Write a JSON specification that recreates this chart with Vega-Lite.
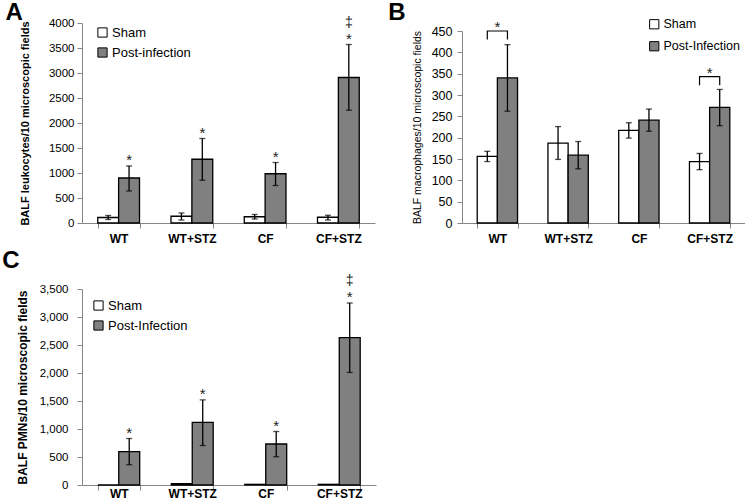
{
  "$schema": "https://vega.github.io/schema/vega-lite/v6.json",
  "padding": {"left": 2, "top": 0, "right": 0, "bottom": 0},
  "background": "white",
  "config": {
    "font": "Liberation Sans",
    "view": {"stroke": null},
    "axis": {"grid": false, "domainColor": "#868686", "tickColor": "#868686", "labelColor": "black", "titleColor": "black", "labelOverlap": false},
    "axisX": {"labelFontWeight": "bold", "labelFontSize": 12, "labelAngle": 0, "tickBand": "extent", "tickSize": 5, "labelPadding": 4, "title": null},
    "axisY": {"tickSize": 5, "labelFontSize": 11.5, "labelPadding": 3, "titleFontWeight": "bold", "titleFontSize": 11},
    "legend": {"labelFontSize": 13, "labelColor": "black", "symbolType": "square", "symbolSize": 85, "symbolStrokeColor": "black", "symbolStrokeWidth": 1, "rowPadding": 5, "labelOffset": 3, "title": null},
    "title": {"fontSize": 24, "fontWeight": "bold", "anchor": "start", "frame": "bounds", "color": "black"}
  },
  "datasets": {
    "A": [
      {"cat": "WT", "grp": "Sham", "mean": 110, "lo": 70, "hi": 150},
      {"cat": "WT", "grp": "Post-infection", "mean": 900, "lo": 640, "hi": 1140, "star": "*"},
      {"cat": "WT+STZ", "grp": "Sham", "mean": 135, "lo": 60, "hi": 200},
      {"cat": "WT+STZ", "grp": "Post-infection", "mean": 1275, "lo": 855, "hi": 1690, "star": "*"},
      {"cat": "CF", "grp": "Sham", "mean": 125, "lo": 80, "hi": 170},
      {"cat": "CF", "grp": "Post-infection", "mean": 985, "lo": 750, "hi": 1210, "star": "*"},
      {"cat": "CF+STZ", "grp": "Sham", "mean": 115, "lo": 60, "hi": 155},
      {"cat": "CF+STZ", "grp": "Post-infection", "mean": 2910, "lo": 2255, "hi": 3570, "star": "*", "dag": "‡"}
    ],
    "B": [
      {"cat": "WT", "grp": "Sham", "mean": 156, "lo": 144, "hi": 168},
      {"cat": "WT", "grp": "Post-Infection", "mean": 340, "lo": 262, "hi": 418},
      {"cat": "WT+STZ", "grp": "Sham", "mean": 187, "lo": 149, "hi": 226},
      {"cat": "WT+STZ", "grp": "Post-Infection", "mean": 159, "lo": 127, "hi": 191},
      {"cat": "CF", "grp": "Sham", "mean": 217, "lo": 199, "hi": 235},
      {"cat": "CF", "grp": "Post-Infection", "mean": 241, "lo": 215, "hi": 267},
      {"cat": "CF+STZ", "grp": "Sham", "mean": 144, "lo": 125, "hi": 163},
      {"cat": "CF+STZ", "grp": "Post-Infection", "mean": 271, "lo": 228, "hi": 313}
    ],
    "Bbr": [
      {"cat": "WT", "grp": "Sham", "y": 430, "ord": 1},
      {"cat": "WT", "grp": "Sham", "y": 450, "ord": 2},
      {"cat": "WT", "grp": "Post-Infection", "y": 450, "ord": 3},
      {"cat": "WT", "grp": "Post-Infection", "y": 430, "ord": 4},
      {"cat": "CF+STZ", "grp": "Sham", "y": 323, "ord": 1},
      {"cat": "CF+STZ", "grp": "Sham", "y": 343, "ord": 2},
      {"cat": "CF+STZ", "grp": "Post-Infection", "y": 343, "ord": 3},
      {"cat": "CF+STZ", "grp": "Post-Infection", "y": 323, "ord": 4}
    ],
    "Bstar": [
      {"cat": "WT", "y": 450, "star": "*"},
      {"cat": "CF+STZ", "y": 343, "star": "*"}
    ],
    "C": [
      {"cat": "WT", "grp": "Sham", "mean": 0},
      {"cat": "WT", "grp": "Post-Infection", "mean": 595, "lo": 362, "hi": 830, "star": "*"},
      {"cat": "WT+STZ", "grp": "Sham", "mean": 25},
      {"cat": "WT+STZ", "grp": "Post-Infection", "mean": 1118, "lo": 705, "hi": 1520, "star": "*"},
      {"cat": "CF", "grp": "Sham", "mean": 12},
      {"cat": "CF", "grp": "Post-Infection", "mean": 732, "lo": 505, "hi": 955, "star": "*"},
      {"cat": "CF+STZ", "grp": "Sham", "mean": 12},
      {"cat": "CF+STZ", "grp": "Post-Infection", "mean": 2630, "lo": 2010, "hi": 3250, "star": "*", "dag": "‡"}
    ]
  },
  "vconcat": [
    {
      "hconcat": [
        {
          "width": 293, "height": 200,
          "title": {"text": "A", "dx": -14, "offset": -9},
          "data": {"name": "A"},
          "encoding": {
            "x": {"field": "cat", "type": "nominal", "sort": ["WT", "WT+STZ", "CF", "CF+STZ"], "scale": {"paddingInner": 0.43, "paddingOuter": 0.215}, "axis": {"labelPadding": 5}},
            "xOffset": {"field": "grp", "type": "nominal", "sort": ["Sham", "Post-infection"]}
          },
          "layer": [
            {
              "mark": {"type": "bar", "stroke": "black", "strokeWidth": 1.3},
              "encoding": {
                "y": {"field": "mean", "type": "quantitative", "scale": {"domain": [0, 4000]}, "axis": {"values": [0, 500, 1000, 1500, 2000, 2500, 3000, 3500, 4000], "format": "d", "title": "BALF leukocytes/10 microscopic fields", "titlePadding": 18}},
                "fill": {"field": "grp", "type": "nominal", "scale": {"domain": ["Sham", "Post-infection"], "range": ["white", "#808080"]}, "legend": {"orient": "none", "legendX": 14, "legendY": 3}}
              }
            },
            {
              "transform": [{"filter": "datum.hi != null"}],
              "mark": {"type": "rule", "color": "black", "strokeWidth": 1.3},
              "encoding": {"y": {"field": "lo", "type": "quantitative", "axis": {"values": [0, 500, 1000, 1500, 2000, 2500, 3000, 3500, 4000], "format": "d", "title": "BALF leukocytes/10 microscopic fields", "titlePadding": 18}}, "y2": {"field": "hi"}}
            },
            {
              "transform": [{"filter": "datum.hi != null"}],
              "mark": {"type": "tick", "color": "black", "size": 6, "thickness": 1.3, "orient": "horizontal"},
              "encoding": {"y": {"field": "lo", "type": "quantitative", "axis": {"values": [0, 500, 1000, 1500, 2000, 2500, 3000, 3500, 4000], "format": "d", "title": "BALF leukocytes/10 microscopic fields", "titlePadding": 18}}}
            },
            {
              "transform": [{"filter": "datum.hi != null"}],
              "mark": {"type": "tick", "color": "black", "size": 6, "thickness": 1.3, "orient": "horizontal"},
              "encoding": {"y": {"field": "hi", "type": "quantitative", "axis": {"values": [0, 500, 1000, 1500, 2000, 2500, 3000, 3500, 4000], "format": "d", "title": "BALF leukocytes/10 microscopic fields", "titlePadding": 18}}}
            },
            {
              "transform": [{"filter": "datum.star != null"}],
              "mark": {"type": "text", "fontSize": 15, "baseline": "alphabetic", "dy": -1, "color": "#222"},
              "encoding": {"y": {"field": "hi", "type": "quantitative", "axis": {"values": [0, 500, 1000, 1500, 2000, 2500, 3000, 3500, 4000], "format": "d", "title": "BALF leukocytes/10 microscopic fields", "titlePadding": 18}}, "text": {"field": "star"}}
            },
            {
              "transform": [{"filter": "datum.dag != null"}],
              "mark": {"type": "text", "fontSize": 14, "baseline": "alphabetic", "dy": -18, "color": "#222"},
              "encoding": {"y": {"field": "hi", "type": "quantitative", "axis": {"values": [0, 500, 1000, 1500, 2000, 2500, 3000, 3500, 4000], "format": "d", "title": "BALF leukocytes/10 microscopic fields", "titlePadding": 18}}, "text": {"field": "dag"}}
            }
          ]
        },
        {
          "width": 283, "height": 200,
          "title": {"text": "B", "dx": -24, "offset": -7},
          "layer": [
            {
              "data": {"name": "B"},
              "mark": {"type": "bar", "stroke": "black", "strokeWidth": 1.3},
              "encoding": {
                "x": {"field": "cat", "type": "nominal", "sort": ["WT", "WT+STZ", "CF", "CF+STZ"], "scale": {"paddingInner": 0.43, "paddingOuter": 0.215}, "axis": {"labelPadding": 5}},
                "xOffset": {"field": "grp", "type": "nominal", "sort": ["Sham", "Post-Infection"]},
                "y": {"field": "mean", "type": "quantitative", "scale": {"domain": [0, 450], "range": [200, 8]}, "axis": {"values": [0, 50, 100, 150, 200, 250, 300, 350, 400, 450], "title": "BALF macrophages/10 microscopic fields", "titleFontWeight": "normal", "titleFontSize": 10.5, "labelFontSize": 12.5, "labelPadding": 5, "titlePadding": 9}},
                "fill": {"field": "grp", "type": "nominal", "scale": {"domain": ["Sham", "Post-Infection"], "range": ["white", "#808080"]}, "legend": {"orient": "none", "legendX": 186, "legendY": -5, "labelFontSize": 12.5, "rowPadding": 8}}
              }
            },
            {
              "data": {"name": "B"},
              "mark": {"type": "rule", "color": "black", "strokeWidth": 1.3},
              "encoding": {
                "x": {"field": "cat", "type": "nominal", "sort": ["WT", "WT+STZ", "CF", "CF+STZ"]},
                "xOffset": {"field": "grp", "type": "nominal", "sort": ["Sham", "Post-Infection"]},
                "y": {"field": "lo", "type": "quantitative", "axis": {"values": [0, 50, 100, 150, 200, 250, 300, 350, 400, 450], "title": "BALF macrophages/10 microscopic fields", "titleFontWeight": "normal", "titleFontSize": 10.5, "labelFontSize": 12.5, "labelPadding": 5, "titlePadding": 9}}, "y2": {"field": "hi"}
              }
            },
            {
              "data": {"name": "B"},
              "mark": {"type": "tick", "color": "black", "size": 6, "thickness": 1.3, "orient": "horizontal"},
              "encoding": {
                "x": {"field": "cat", "type": "nominal", "sort": ["WT", "WT+STZ", "CF", "CF+STZ"]},
                "xOffset": {"field": "grp", "type": "nominal", "sort": ["Sham", "Post-Infection"]},
                "y": {"field": "lo", "type": "quantitative", "axis": {"values": [0, 50, 100, 150, 200, 250, 300, 350, 400, 450], "title": "BALF macrophages/10 microscopic fields", "titleFontWeight": "normal", "titleFontSize": 10.5, "labelFontSize": 12.5, "labelPadding": 5, "titlePadding": 9}}
              }
            },
            {
              "data": {"name": "B"},
              "mark": {"type": "tick", "color": "black", "size": 6, "thickness": 1.3, "orient": "horizontal"},
              "encoding": {
                "x": {"field": "cat", "type": "nominal", "sort": ["WT", "WT+STZ", "CF", "CF+STZ"]},
                "xOffset": {"field": "grp", "type": "nominal", "sort": ["Sham", "Post-Infection"]},
                "y": {"field": "hi", "type": "quantitative", "axis": {"values": [0, 50, 100, 150, 200, 250, 300, 350, 400, 450], "title": "BALF macrophages/10 microscopic fields", "titleFontWeight": "normal", "titleFontSize": 10.5, "labelFontSize": 12.5, "labelPadding": 5, "titlePadding": 9}}
              }
            },
            {
              "data": {"name": "Bbr"},
              "mark": {"type": "line", "color": "black", "strokeWidth": 1.2},
              "encoding": {
                "x": {"field": "cat", "type": "nominal", "sort": ["WT", "WT+STZ", "CF", "CF+STZ"]},
                "xOffset": {"field": "grp", "type": "nominal", "sort": ["Sham", "Post-Infection"]},
                "y": {"field": "y", "type": "quantitative", "axis": {"values": [0, 50, 100, 150, 200, 250, 300, 350, 400, 450], "title": "BALF macrophages/10 microscopic fields", "titleFontWeight": "normal", "titleFontSize": 10.5, "labelFontSize": 12.5, "labelPadding": 5, "titlePadding": 9}},
                "detail": {"field": "cat"},
                "order": {"field": "ord", "type": "quantitative"}
              }
            },
            {
              "data": {"name": "Bstar"},
              "mark": {"type": "text", "fontSize": 15, "baseline": "alphabetic", "dy": 1, "color": "#222"},
              "encoding": {
                "x": {"field": "cat", "type": "nominal", "sort": ["WT", "WT+STZ", "CF", "CF+STZ"]},
                "y": {"field": "y", "type": "quantitative", "axis": {"values": [0, 50, 100, 150, 200, 250, 300, 350, 400, 450], "title": "BALF macrophages/10 microscopic fields", "titleFontWeight": "normal", "titleFontSize": 10.5, "labelFontSize": 12.5, "labelPadding": 5, "titlePadding": 9}},
                "text": {"field": "star"}
              }
            }
          ]
        }
      ],
      "spacing": 13,
      "resolve": {"scale": {"x": "independent", "y": "independent", "fill": "independent", "xOffset": "independent"}, "legend": {"fill": "independent"}}
    },
    {
      "width": 294, "height": 196,
      "title": {"text": "C", "dx": -14, "offset": 1},
      "data": {"name": "C"},
      "encoding": {
        "x": {"field": "cat", "type": "nominal", "sort": ["WT", "WT+STZ", "CF", "CF+STZ"], "scale": {"paddingInner": 0.43, "paddingOuter": 0.215}, "axis": {"labelPadding": -2}},
        "xOffset": {"field": "grp", "type": "nominal", "sort": ["Sham", "Post-Infection"]}
      },
      "layer": [
        {
          "mark": {"type": "bar", "stroke": "black", "strokeWidth": 1.3},
          "encoding": {
            "y": {"field": "mean", "type": "quantitative", "scale": {"domain": [0, 3500]}, "axis": {"values": [0, 500, 1000, 1500, 2000, 2500, 3000, 3500], "format": ",d", "title": "BALF PMNs/10 microscopic fields", "titleFontSize": 12, "labelPadding": 9, "titlePadding": 10}},
            "fill": {"field": "grp", "type": "nominal", "scale": {"domain": ["Sham", "Post-Infection"], "range": ["white", "#808080"]}, "legend": {"orient": "none", "legendX": 10, "legendY": 10}}
          }
        },
        {
          "transform": [{"filter": "datum.hi != null"}],
          "mark": {"type": "rule", "color": "black", "strokeWidth": 1.3},
          "encoding": {"y": {"field": "lo", "type": "quantitative", "axis": {"values": [0, 500, 1000, 1500, 2000, 2500, 3000, 3500], "format": ",d", "title": "BALF PMNs/10 microscopic fields", "titleFontSize": 12, "labelPadding": 9, "titlePadding": 10}}, "y2": {"field": "hi"}}
        },
        {
          "transform": [{"filter": "datum.hi != null"}],
          "mark": {"type": "tick", "color": "black", "size": 6, "thickness": 1.3, "orient": "horizontal"},
          "encoding": {"y": {"field": "lo", "type": "quantitative", "axis": {"values": [0, 500, 1000, 1500, 2000, 2500, 3000, 3500], "format": ",d", "title": "BALF PMNs/10 microscopic fields", "titleFontSize": 12, "labelPadding": 9, "titlePadding": 10}}}
        },
        {
          "transform": [{"filter": "datum.hi != null"}],
          "mark": {"type": "tick", "color": "black", "size": 6, "thickness": 1.3, "orient": "horizontal"},
          "encoding": {"y": {"field": "hi", "type": "quantitative", "axis": {"values": [0, 500, 1000, 1500, 2000, 2500, 3000, 3500], "format": ",d", "title": "BALF PMNs/10 microscopic fields", "titleFontSize": 12, "labelPadding": 9, "titlePadding": 10}}}
        },
        {
          "transform": [{"filter": "datum.star != null"}],
          "mark": {"type": "text", "fontSize": 15, "baseline": "alphabetic", "dy": -1, "color": "#222"},
          "encoding": {"y": {"field": "hi", "type": "quantitative", "axis": {"values": [0, 500, 1000, 1500, 2000, 2500, 3000, 3500], "format": ",d", "title": "BALF PMNs/10 microscopic fields", "titleFontSize": 12, "labelPadding": 9, "titlePadding": 10}}, "text": {"field": "star"}}
        },
        {
          "transform": [{"filter": "datum.dag != null"}],
          "mark": {"type": "text", "fontSize": 14, "baseline": "alphabetic", "dy": -18, "color": "#222"},
          "encoding": {"y": {"field": "hi", "type": "quantitative", "axis": {"values": [0, 500, 1000, 1500, 2000, 2500, 3000, 3500], "format": ",d", "title": "BALF PMNs/10 microscopic fields", "titleFontSize": 12, "labelPadding": 9, "titlePadding": 10}}, "text": {"field": "dag"}}
        }
      ]
    }
  ],
  "spacing": 4,
  "resolve": {"scale": {"x": "independent", "y": "independent", "fill": "independent", "xOffset": "independent"}, "legend": {"fill": "independent"}}
}
